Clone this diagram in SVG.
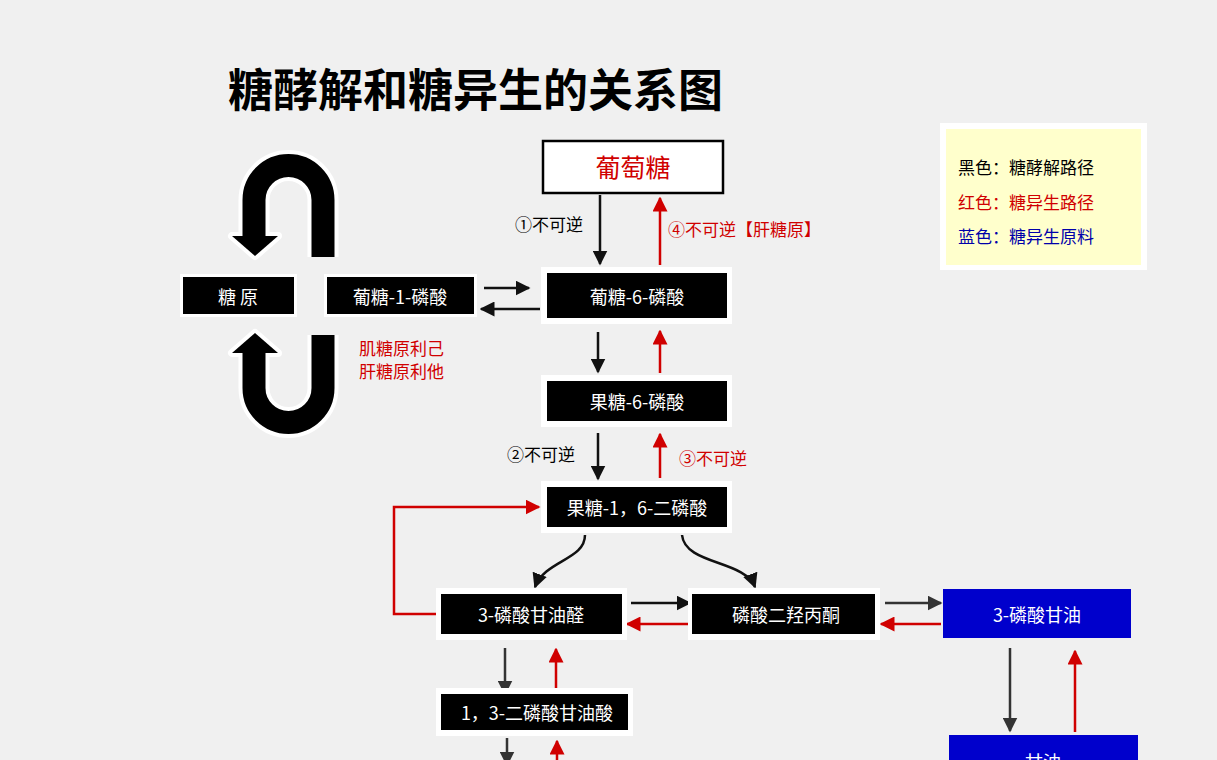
<svg xmlns="http://www.w3.org/2000/svg" width="1217" height="760" viewBox="0 0 1217 760">
<defs>
<style>
text{font-family:"Noto Sans CJK SC","Noto Sans",sans-serif}
.t{fill:#fff;font-size:18px;text-anchor:middle;dominant-baseline:central}
.wb{fill:#fff}
.bb{fill:#000}
.k{stroke:#111;stroke-width:2.5;fill:none;marker-end:url(#ak)}
.g{stroke:#333;stroke-width:2.5;fill:none;marker-end:url(#ag)}
.r{stroke:#d00000;stroke-width:2.5;fill:none;marker-end:url(#ar)}
.lab{font-size:17px}
.red{fill:#d00000}
.uw{stroke:#fff;stroke-width:31;fill:none}
.ub{stroke:#000;stroke-width:23;fill:none}
</style>
<marker id="ak" viewBox="0 0 10 10" refX="9" refY="5" markerWidth="6" markerHeight="6" orient="auto"><path d="M0,0L10,5L0,10z" fill="#111"/></marker>
<marker id="ag" viewBox="0 0 10 10" refX="9" refY="5" markerWidth="6" markerHeight="6" orient="auto"><path d="M0,0L10,5L0,10z" fill="#333"/></marker>
<marker id="ar" viewBox="0 0 10 10" refX="9" refY="5" markerWidth="6" markerHeight="6" orient="auto"><path d="M0,0L10,5L0,10z" fill="#d00000"/></marker>
</defs>
<rect width="1217" height="760" fill="#f0f0f0"/>
<text x="228" y="107" font-size="45" font-weight="bold" fill="#000">糖酵解和糖异生的关系图</text>

<g id="u-arrows">
<path class="uw" d="M323,257 V200 A34.5,34.5 0 0 0 254,200 V236"/>
<polygon points="232,236 278,236 255,256" fill="#fff" stroke="#fff" stroke-width="8" stroke-linejoin="round"/>
<path class="ub" d="M323,257 V200 A34.5,34.5 0 0 0 254,200 V237"/>
<polygon points="232,236 278,236 255,256" fill="#000"/>
<path class="uw" d="M323,335 V388 A34.5,34.5 0 0 1 254,388 V353"/>
<polygon points="232,353 278,353 255,333" fill="#fff" stroke="#fff" stroke-width="8" stroke-linejoin="round"/>
<path class="ub" d="M323,335 V388 A34.5,34.5 0 0 1 254,388 V352"/>
<polygon points="232,353 278,353 255,333" fill="#000"/>
</g>

<g id="connectors">
<path class="k" d="M600,195 V264"/>
<path class="r" d="M660,265 V198"/>
<path class="k" d="M484,288 H529"/>
<path class="k" d="M540,309 H481"/>
<path class="k" d="M598,332 V372"/>
<path class="r" d="M660,373 V331"/>
<path class="k" d="M598,433 V479"/>
<path class="r" d="M660,478 V434"/>
<path class="k" d="M585,535 C585,560 545,560 535,587"/>
<path class="k" d="M682,535 C685,565 745,560 755,587"/>
<path class="r" d="M437,614 H394 V507 H539"/>
<path class="k" d="M631,603 H690"/>
<path class="r" d="M688,624 H627"/>
<path class="g" d="M885,603 H941"/>
<path class="r" d="M941,624 H881"/>
<path class="g" d="M505,648 V694"/>
<path class="r" d="M556,695 V649"/>
<path class="g" d="M507,738 V765"/>
<path class="r" d="M557,765 V741"/>
<path class="g" d="M1010,648 V731"/>
<path class="r" d="M1075,732 V651"/>
</g>

<g id="labels">
<text x="515" y="231" class="lab">①不可逆</text>
<text x="668" y="236" class="lab red">④不可逆【肝糖原】</text>
<text x="507" y="461" class="lab">②不可逆</text>
<text x="679" y="465" class="lab red">③不可逆</text>
<text x="359" y="355" class="lab red">肌糖原利己</text>
<text x="359" y="378" class="lab red">肝糖原利他</text>
</g>

<g id="n-glucose"><rect x="543" y="141" width="180" height="52" fill="#fff" stroke="#000" stroke-width="2.5"/><text x="633" y="166" class="t" style="fill:#d00000;font-size:25px">葡萄糖</text></g>
<g id="n-glycogen"><rect x="180" y="274" width="117" height="43" class="wb"/><rect x="183" y="277" width="111" height="37" class="bb"/><text x="238" y="296" class="t">糖 原</text></g>
<g id="n-g1p"><rect x="324" y="274" width="153" height="43" class="wb"/><rect x="327" y="277" width="147" height="37" class="bb"/><text x="400" y="296" class="t">葡糖-1-磷酸</text></g>
<g id="n-g6p"><rect x="541" y="267" width="191" height="57" class="wb"/><rect x="547" y="273" width="180" height="45" class="bb"/><text x="637" y="296" class="t">葡糖-6-磷酸</text></g>
<g id="n-f6p"><rect x="541" y="375" width="191" height="52" class="wb"/><rect x="547" y="381" width="180" height="40" class="bb"/><text x="637" y="401" class="t">果糖-6-磷酸</text></g>
<g id="n-f16bp"><rect x="541" y="481" width="191" height="52" class="wb"/><rect x="547" y="487" width="180" height="40" class="bb"/><text x="637" y="507" class="t">果糖-1，6-二磷酸</text></g>
<g id="n-g3p"><rect x="436" y="588" width="191" height="52" class="wb"/><rect x="441" y="594" width="181" height="40" class="bb"/><text x="531" y="614" class="t">3-磷酸甘油醛</text></g>
<g id="n-dhap"><rect x="688" y="588" width="192" height="52" class="wb"/><rect x="692" y="594" width="183" height="40" class="bb"/><text x="786" y="614" class="t">磷酸二羟丙酮</text></g>
<g id="n-g3pol"><rect x="943" y="589" width="188" height="49" fill="#0000cc"/><text x="1037" y="614" class="t">3-磷酸甘油</text></g>
<g id="n-13bpg"><rect x="436" y="688" width="197" height="48" class="wb"/><rect x="441" y="694" width="187" height="36" class="bb"/><text x="537" y="712" class="t">1，3-二磷酸甘油酸</text></g>
<g id="n-glycerol"><rect x="949" y="735" width="189" height="40" fill="#0000cc"/><text x="1043" y="761" class="t">甘油</text></g>

<g id="legend">
<rect x="940" y="123" width="207" height="147" fill="#fff"/>
<rect x="946" y="129" width="195" height="136" fill="#ffffcc"/>
<text x="958" y="174" class="lab">黑色：糖酵解路径</text>
<text x="958" y="209" class="lab red">红色：糖异生路径</text>
<text x="958" y="243" class="lab" fill="#0000aa">蓝色：糖异生原料</text>
</g>
</svg>
